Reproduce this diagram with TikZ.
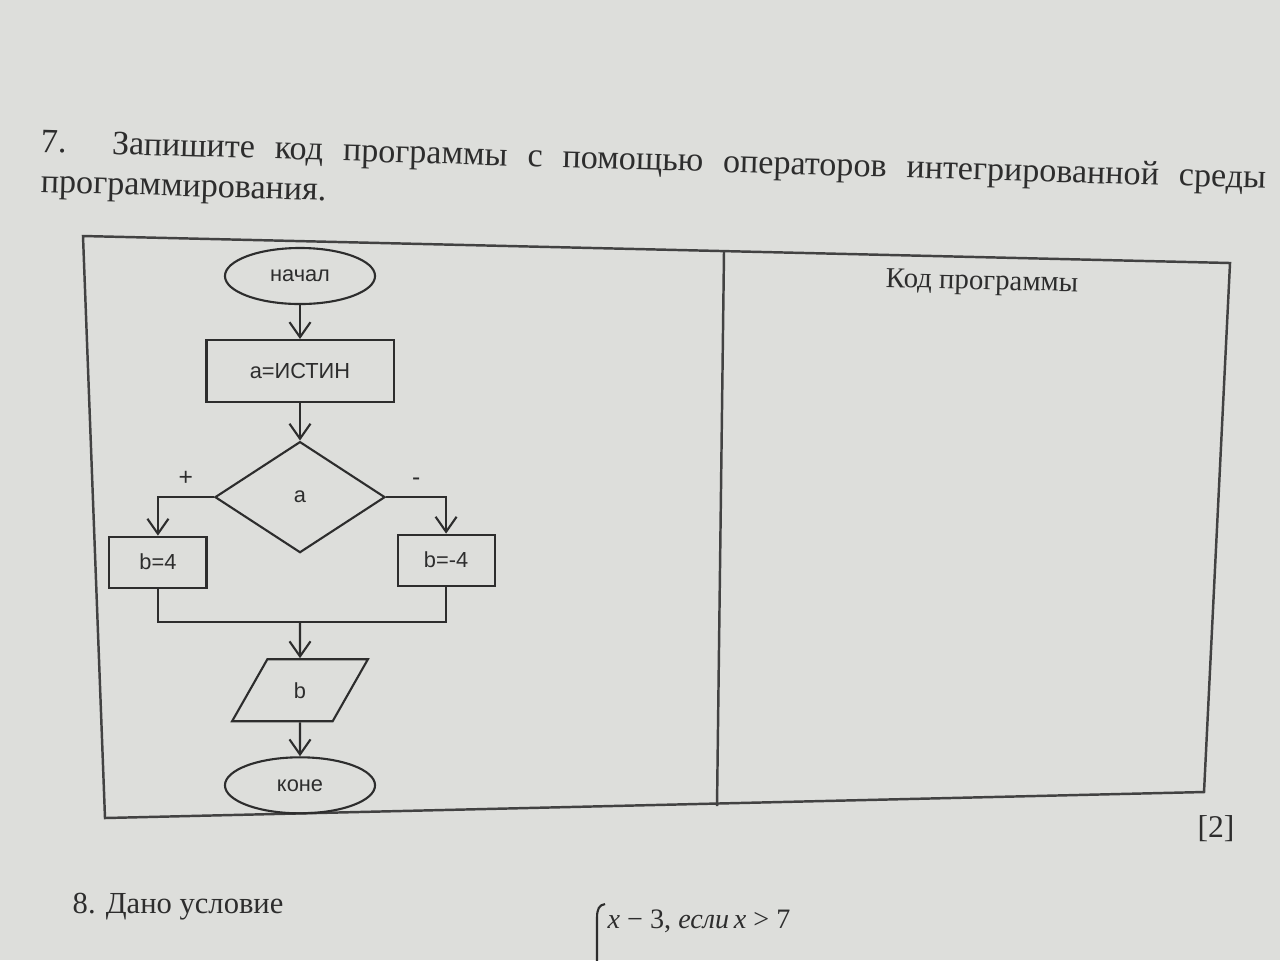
\documentclass[tikz,border=0pt]{standalone}
\usepackage{fontspec}
\setmainfont{Liberation Serif}
\setsansfont{Liberation Sans}
\usetikzlibrary{arrows.meta, positioning, shapes.geometric}
\definecolor{paper}{RGB}{221,222,219}
\definecolor{ink}{RGB}{45,45,45}

\begin{document}
\begin{tikzpicture}[x=0.01cm, y=-0.01cm, on grid, >={Straight Barb[length=1.5mm,width=2.1mm]},
    every node/.style={text=ink},
    chart/.style={draw=ink, line width=0.6pt, font=\sffamily\fontsize{6.2}{7}\selectfont},
    term/.style={chart, ellipse, minimum width=1.5cm, minimum height=0.56cm, inner sep=0pt},
    proc/.style={chart, rectangle, minimum width=1.87cm, minimum height=0.62cm},
    smallproc/.style={chart, rectangle, minimum width=0.97cm, minimum height=0.51cm},
    cond/.style={chart, diamond, minimum width=1.7cm, minimum height=1.11cm, inner sep=0pt},
    io/.style={chart, trapezium, trapezium left angle=64, trapezium right angle=116,
      trapezium stretches=true, minimum width=1.36cm, minimum height=0.62cm},
    flow/.style={draw=ink, line width=0.6pt},
    frame/.style={draw=ink!90, line width=0.7pt},
    branchlabel/.style={font=\sffamily\fontsize{7}{8}\selectfont, inner sep=1pt},
    task/.style={font=\fontsize{9.7}{11}\selectfont, anchor=base west, inner sep=0pt}]
  \fill[paper] (0,0) rectangle (1280,960);
  \useasboundingbox (0,0) rectangle (1280,960);

  % task text
  \node[task, rotate=-1.7] (task1) at (40,152)
    {\makebox[12.25cm][s]{7. Запишите код программы с помощью операторов интегрированной среды}};
  \node[task, rotate=-1.7] (task2) at (40,192) {программирования.};

  % table
  \coordinate (tl) at (83,236);
  \coordinate (tr) at (1230,263);
  \coordinate (br) at (1204,792);
  \coordinate (bl) at (105,818);
  \coordinate (dt) at (724,251);
  \coordinate (db) at (717,806);
  \draw[frame] (tl) -- (tr) -- (br) -- (bl) -- cycle;
  \draw[frame] (dt) -- (db);
  \node[task, font=\fontsize{8.2}{10}\selectfont, rotate=-1.4] (codehead) at (885,287) {Код программы};

  % flowchart
  \node[term]  (start) at (300,276) {начал};
  \node[proc]  (init)  [below=0.95cm of start] {a=ИСТИН};
  \node[cond]  (check) [below=1.26cm of init] {a};
  \node[smallproc] (pos) [below left=0.65cm and 1.42cm of check] {b=4};
  \node[smallproc] (neg) [below right=0.63cm and 1.46cm of check] {b=-4};
  \coordinate[below=1.25cm of check] (merge);
  \node[io]    (out)   [below=1.93cm of check] {b};
  \node[term]  (stop)  [below=0.95cm of out] {коне};

  \draw[flow,->] (start) -- (init);
  \draw[flow,->] (init) -- (check);
  \draw[flow,->] (check.west) -| node[branchlabel, pos=0.25, above=2pt] {+} (pos.north);
  \draw[flow,->] (check.east) -| node[branchlabel, pos=0.25, above=2pt] {-} (neg.north);
  \draw[flow] (pos.south) |- (merge) -| (neg.south);
  \draw[flow,->] (merge) -- (out);
  \draw[flow,->] (out) -- (stop);

  % below the table
  \node[font=\fontsize{9}{10}\selectfont] (score) at (1216,829) {[2]};
  \node[task, font=\fontsize{8.7}{10}\selectfont] (task8) at (72,913) {8. Дано условие};
  \draw[ink, line width=0.6pt] (605,904) .. controls (599,905) and (597,909) .. (597,918) -- (597,975);
  \node[task, font=\fontsize{8}{10}\selectfont] (case1) at (607,928) {\textit{x} − 3, \textit{если\,x} > 7};
\end{tikzpicture}
\end{document}
